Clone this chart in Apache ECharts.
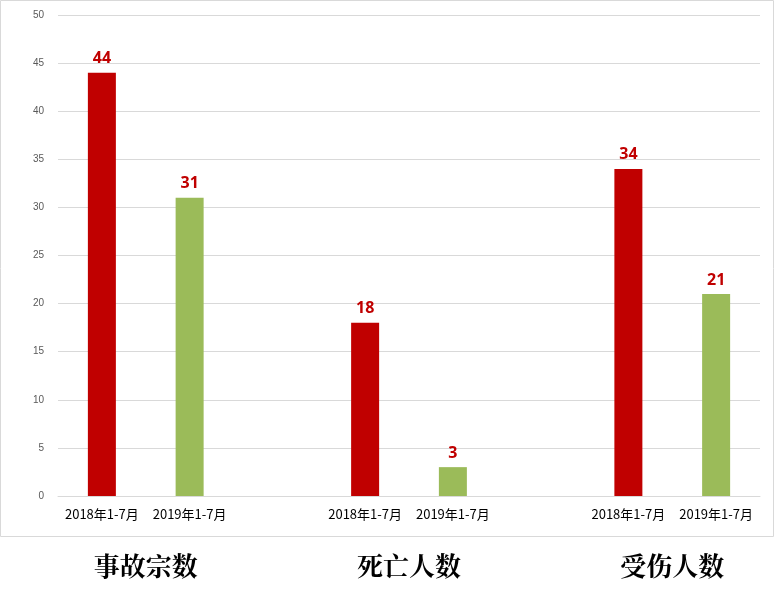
<!DOCTYPE html>
<html><head><meta charset="utf-8">
<script src="https://cdn.jsdelivr.net/npm/echarts@6/dist/echarts.min.js"></script>
<style>html,body{margin:0;padding:0;background:#fff}#c{width:775px;height:598px}</style>
</head><body><div id="c"></div>
<script>
const categories = ['2018年1-7月','2019年1-7月','','2018年1-7月','2019年1-7月','','2018年1-7月','2019年1-7月'];
const groups = ['事故宗数','死亡人数','受伤人数'];
const values2018 = [44,null,null,18,null,null,34,null];
const values2019 = [null,31,null,null,3,null,null,21];
const yTicks = {min:0,max:50,interval:5};

const chart = echarts.init(document.getElementById('c'));
const lbl = {show:true,position:'top',color:'#C00000',fontWeight:'bold',fontSize:16,fontFamily:'Open Sans, sans-serif',distance:6};
chart.setOption({
  animation:false,
  grid:{left:58,right:15,top:15,bottom:102},
  xAxis:{type:'category',data:categories,
    axisLine:{lineStyle:{color:'#d9d9d9'}},axisTick:{show:false},
    axisLabel:{interval:0,color:'#000',fontSize:13,fontFamily:'Noto Sans CJK SC',margin:12}},
  yAxis:{type:'value',min:yTicks.min,max:yTicks.max,interval:yTicks.interval,
    axisLine:{show:false},axisTick:{show:false},
    axisLabel:{color:'#595959',fontSize:10,margin:14},
    splitLine:{lineStyle:{color:'#d9d9d9'}}},
  series:[
    {type:'bar',data:values2018,barWidth:28,barGap:'-100%',itemStyle:{color:'#C00000'},label:lbl},
    {type:'bar',data:values2019,barWidth:28,itemStyle:{color:'#9BBB59'},label:lbl}
  ]
});
const els = [{type:'rect',shape:{x:0.5,y:0.5,width:773,height:536},style:{fill:'none',stroke:'#d9d9d9',lineWidth:1},z:-1}];
groups.forEach((g,i)=>{
  const a = chart.convertToPixel({xAxisIndex:0},i*3);
  const b = chart.convertToPixel({xAxisIndex:0},i*3+1);
  els.push({type:'text',x:(a+b)/2,y:566,style:{text:g,fill:'#000',font:'bold 26px "Noto Serif CJK SC", "Noto Sans CJK SC", serif',align:'center',verticalAlign:'middle'}});
});
chart.setOption({graphic:els});
</script></body></html>
